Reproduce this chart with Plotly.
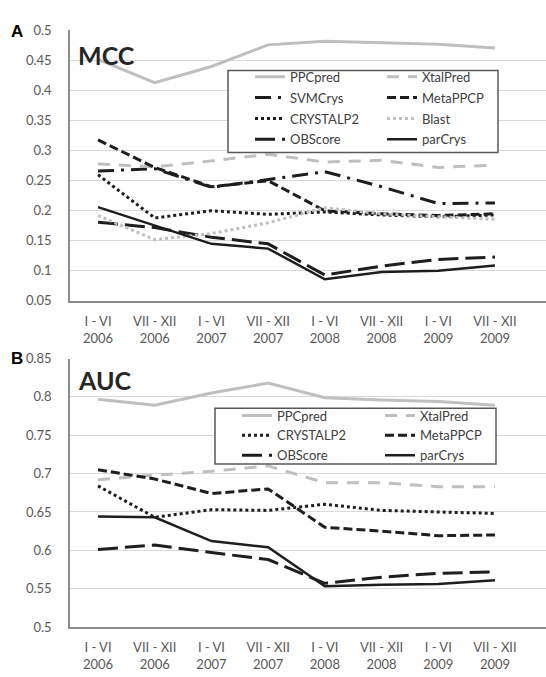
import plotly.graph_objects as go

categories = ["I - VI<br>2006", "VII - XII<br>2006", "I - VI<br>2007", "VII - XII<br>2007",
              "I - VI<br>2008", "VII - XII<br>2008", "I - VI<br>2009", "VII - XII<br>2009"]
positions = list(range(len(categories)))

# Panel A: MCC
mcc_ppcpred = [0.452, 0.413, 0.440, 0.476, 0.482, 0.479, 0.477, 0.471]
mcc_xtalpred = [0.278, 0.273, 0.283, 0.294, 0.281, 0.284, 0.272, 0.276]
mcc_svmcrys = [0.266, 0.270, 0.239, 0.252, 0.265, 0.240, 0.212, 0.213]
mcc_metappcp = [0.318, 0.272, 0.240, 0.250, 0.200, 0.195, 0.192, 0.195]
mcc_crystalp2 = [0.260, 0.188, 0.200, 0.194, 0.198, 0.193, 0.190, 0.193]
mcc_blast = [0.192, 0.152, 0.162, 0.180, 0.205, 0.195, 0.190, 0.186]
mcc_obscore = [0.181, 0.172, 0.156, 0.145, 0.093, 0.108, 0.119, 0.123]
mcc_parcrys = [0.206, 0.175, 0.145, 0.137, 0.086, 0.098, 0.100, 0.109]

# Panel B: AUC
auc_ppcpred = [0.797, 0.789, 0.805, 0.818, 0.799, 0.796, 0.794, 0.789]
auc_xtalpred = [0.692, 0.698, 0.703, 0.710, 0.688, 0.688, 0.683, 0.683]
auc_crystalp2 = [0.684, 0.643, 0.653, 0.652, 0.660, 0.652, 0.650, 0.648]
auc_metappcp = [0.705, 0.693, 0.674, 0.680, 0.630, 0.625, 0.619, 0.620]
auc_obscore = [0.601, 0.607, 0.597, 0.588, 0.557, 0.565, 0.570, 0.572]
auc_parcrys = [0.644, 0.643, 0.612, 0.604, 0.553, 0.555, 0.556, 0.561]

mcc_ticks = [0.05, 0.1, 0.15, 0.2, 0.25, 0.3, 0.35, 0.4, 0.45, 0.5]
mcc_ticktext = ["0.05", "0.1", "0.15", "0.2", "0.25", "0.3", "0.35", "0.4", "0.45", "0.5"]
auc_ticks = [0.5, 0.55, 0.6, 0.65, 0.7, 0.75, 0.8, 0.85]
auc_ticktext = ["0.5", "0.55", "0.6", "0.65", "0.7", "0.75", "0.8", "0.85"]

GREY = "#bfbfbf"
BLACK = "#1e1e1e"
styles = {
    "PPCpred": dict(color=GREY, width=3, dash="solid"),
    "XtalPred": dict(color=GREY, width=3, dash="12px,9px"),
    "SVMCrys": dict(color=BLACK, width=3, dash="16px,7px,3px,7px"),
    "MetaPPCP": dict(color=BLACK, width=3, dash="9px,4px"),
    "CRYSTALP2": dict(color=BLACK, width=3, dash="3px,3px"),
    "Blast": dict(color=GREY, width=3, dash="3px,3px"),
    "OBScore": dict(color=BLACK, width=3, dash="20px,7px"),
    "parCrys": dict(color=BLACK, width=2.5, dash="solid"),
}

fig = go.Figure()

def add(name, values, xa, ya, legend, grp):
    fig.add_trace(go.Scatter(
        x=positions, y=values, mode="lines", name=name,
        line=styles[name], xaxis=xa, yaxis=ya, legend=legend,
        legendgroup=grp + name,
    ))

# Panel A traces, column 1 -> legend, column 2 -> legend2
add("PPCpred", mcc_ppcpred, "x", "y", "legend", "a")
add("SVMCrys", mcc_svmcrys, "x", "y", "legend", "a")
add("CRYSTALP2", mcc_crystalp2, "x", "y", "legend", "a")
add("OBScore", mcc_obscore, "x", "y", "legend", "a")
add("XtalPred", mcc_xtalpred, "x", "y", "legend2", "a")
add("MetaPPCP", mcc_metappcp, "x", "y", "legend2", "a")
add("Blast", mcc_blast, "x", "y", "legend2", "a")
add("parCrys", mcc_parcrys, "x", "y", "legend2", "a")

# Panel B traces
add("PPCpred", auc_ppcpred, "x2", "y2", "legend3", "b")
add("CRYSTALP2", auc_crystalp2, "x2", "y2", "legend3", "b")
add("OBScore", auc_obscore, "x2", "y2", "legend3", "b")
add("XtalPred", auc_xtalpred, "x2", "y2", "legend4", "b")
add("MetaPPCP", auc_metappcp, "x2", "y2", "legend4", "b")
add("parCrys", auc_parcrys, "x2", "y2", "legend4", "b")

W, H = 546, 677
L = 70
PW = W - L

def px(xp):
    return (xp - L) / PW

def py(yp):
    return 1 - yp / H

FONT = "Lato"
TICKC = "#595959"
xcommon = dict(range=[-0.494, 7.9], tickmode="array", tickvals=positions, ticktext=categories,
               showgrid=False, showline=True, linecolor="#8c8c8c", linewidth=1.5,
               ticks="", tickfont=dict(family=FONT, size=13, color=TICKC), zeroline=False,
               fixedrange=True, ticklabelstandoff=8)
ycommon = dict(showgrid=True, gridcolor="#d9d9d9", gridwidth=1, showline=True,
               linecolor="#8c8c8c", linewidth=1.5, ticks="", zeroline=False,
               tickfont=dict(family=FONT, size=13, color=TICKC), ticklabelstandoff=14)

legcommon = dict(bgcolor="rgba(0,0,0,0)", borderwidth=0, xanchor="left", yanchor="top",
                 font=dict(family=FONT, size=13, color="#404040"), tracegroupgap=1,
                 orientation="v")

fig.update_layout(
    width=W, height=H,
    margin=dict(l=L, r=0, t=0, b=0),
    paper_bgcolor="white", plot_bgcolor="white",
    xaxis=dict(domain=[0, 1], anchor="y", **xcommon),
    yaxis=dict(domain=[py(300), py(23)], anchor="x", range=[0.05, 0.5],
               tickvals=mcc_ticks, ticktext=mcc_ticktext, **ycommon),
    xaxis2=dict(domain=[0, 1], anchor="y2", **xcommon),
    yaxis2=dict(domain=[py(634), py(359)], anchor="x2", range=[0.5, 0.85],
                tickvals=auc_ticks, ticktext=auc_ticktext, **ycommon),
    legend=dict(x=px(250), y=py(55), **legcommon),
    legend2=dict(x=px(382), y=py(55), **legcommon),
    legend3=dict(x=px(237), y=py(402), **{**legcommon, "tracegroupgap": 0}),
    legend4=dict(x=px(380), y=py(402), **{**legcommon, "tracegroupgap": 0}),
    shapes=[
        dict(type="rect", xref="paper", yref="paper", x0=px(228), x1=px(498),
             y0=py(148), y1=py(64), fillcolor="white", line=dict(color="#595959", width=1.5),
             layer="above"),
        dict(type="rect", xref="paper", yref="paper", x0=px(215), x1=px(496),
             y0=py(467), y1=py(410), fillcolor="white", line=dict(color="#595959", width=1.5),
             layer="above"),
    ],
    annotations=[
        dict(text="<b>A</b>", xref="paper", yref="paper", x=px(9), y=py(24), xanchor="left",
             yanchor="middle", showarrow=False, font=dict(family="Liberation Sans", size=17, color="black")),
        dict(text="<b>B</b>", xref="paper", yref="paper", x=px(9), y=py(359), xanchor="left",
             yanchor="middle", showarrow=False, font=dict(family="Liberation Sans", size=17, color="black")),
        dict(text="<b>MCC</b>", xref="paper", yref="paper", x=px(76), y=py(48), xanchor="left",
             yanchor="middle", showarrow=False, font=dict(family=FONT, size=25, color="#262626")),
        dict(text="<b>AUC</b>", xref="paper", yref="paper", x=px(76), y=py(381), xanchor="left",
             yanchor="middle", showarrow=False, font=dict(family=FONT, size=25, color="#262626")),
    ],
    showlegend=True,
)

fig.write_html("out.html", config={"displayModeBar": False},
               post_script="document.body.style.margin='0px';document.body.style.overflow='hidden';")
